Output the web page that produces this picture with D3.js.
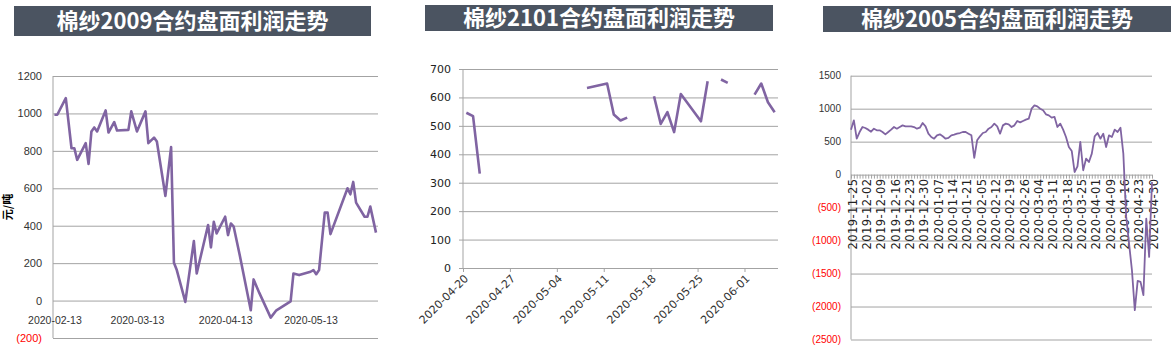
<!DOCTYPE html>
<html lang="zh">
<head>
<meta charset="UTF-8">
<title>棉纱合约盘面利润走势</title>
<script src="https://cdn.jsdelivr.net/npm/d3@7"></script>
<style>
  body { margin: 0; background: #fff; }
  .grid line { stroke: #a3a3a3; stroke-width: 1; }
  .grid path { display: none; }
  .lbl path, .lbl line { display: none; }
</style>
</head>
<body>
<script>
// ---- data ----
var titles = ["棉纱2009合约盘面利润走势", "棉纱2101合约盘面利润走势", "棉纱2005合约盘面利润走势"];
var unitLabel = "元/吨";

// 2009 contract
var p1Dates = ["2020-02-13","2020-02-14","2020-02-17","2020-02-19","2020-02-20","2020-02-21","2020-02-24","2020-02-25","2020-02-26","2020-02-27",
  "2020-02-28","2020-03-02","2020-03-03","2020-03-05","2020-03-06","2020-03-10","2020-03-11","2020-03-13","2020-03-16","2020-03-17",
  "2020-03-19","2020-03-20","2020-03-23","2020-03-25","2020-03-26","2020-03-27","2020-03-30","2020-04-02","2020-04-03","2020-04-07",
  "2020-04-08","2020-04-09","2020-04-10","2020-04-13","2020-04-14","2020-04-15","2020-04-16","2020-04-18","2020-04-22","2020-04-23",
  "2020-04-25","2020-04-29","2020-05-01","2020-05-06","2020-05-07","2020-05-09","2020-05-13","2020-05-14","2020-05-15","2020-05-16",
  "2020-05-18","2020-05-19","2020-05-20","2020-05-26","2020-05-27","2020-05-28","2020-05-29","2020-06-01","2020-06-02","2020-06-03",
  "2020-06-05"];
var p1Values = [993,993,1082,814,814,752,841,730,904,925,
  904,1016,898,954,909,912,1011,904,1011,841,
  871,850,559,820,202,163,-7,318,145,404,
  284,421,359,448,350,412,395,252,-52,113,
  41,-91,-52,-4,145,136,154,163,141,163,
  470,470,355,600,568,634,523,448,448,502,
  363];
var p1Ticks = [-200,0,200,400,600,800,1000,1200];
var p1TickDates = ["2020-02-13","2020-03-13","2020-04-13","2020-05-13"];

// 2101 contract (null = no quote)
var p2Dates = ["2020-04-20","2020-04-21","2020-04-22","2020-04-23","2020-05-08","2020-05-11","2020-05-12","2020-05-13","2020-05-14","2020-05-15",
  "2020-05-18","2020-05-19","2020-05-20","2020-05-21","2020-05-22","2020-05-25","2020-05-26","2020-05-27","2020-05-28","2020-05-29",
  "2020-06-01","2020-06-02","2020-06-03","2020-06-04","2020-06-05"];
var p2Values = [546,534,332,null,633,649,540,519,529,null,
  604,507,548,478,612,516,657,null,663,651,
  null,610,649,583,548];
var p2Ticks = [0,100,200,300,400,500,600,700];
var p2TickDates = ["2020-04-20","2020-04-27","2020-05-04","2020-05-11","2020-05-18","2020-05-25","2020-06-01"];

// 2005 contract (trading days)
var p3Dates = ["2019-11-25","2019-11-26","2019-11-27","2019-11-28","2019-11-29",
  "2019-12-02","2019-12-03","2019-12-04","2019-12-05","2019-12-06","2019-12-09","2019-12-10","2019-12-11","2019-12-12","2019-12-13",
  "2019-12-16","2019-12-17","2019-12-18","2019-12-19","2019-12-20","2019-12-23","2019-12-24","2019-12-25","2019-12-26","2019-12-27",
  "2019-12-30","2019-12-31",
  "2020-01-02","2020-01-03","2020-01-06","2020-01-07","2020-01-08","2020-01-09","2020-01-10","2020-01-13","2020-01-14","2020-01-15",
  "2020-01-16","2020-01-17","2020-01-20","2020-01-21","2020-01-22","2020-01-23",
  "2020-02-03","2020-02-04","2020-02-05","2020-02-06","2020-02-07","2020-02-10","2020-02-11","2020-02-12","2020-02-13","2020-02-14",
  "2020-02-17","2020-02-18","2020-02-19","2020-02-20","2020-02-21","2020-02-24","2020-02-25","2020-02-26","2020-02-27","2020-02-28",
  "2020-03-02","2020-03-03","2020-03-04","2020-03-05","2020-03-06","2020-03-09","2020-03-10","2020-03-11","2020-03-12","2020-03-13",
  "2020-03-16","2020-03-17","2020-03-18","2020-03-19","2020-03-20","2020-03-23","2020-03-24","2020-03-25","2020-03-26","2020-03-27",
  "2020-03-30","2020-03-31",
  "2020-04-01","2020-04-02","2020-04-03","2020-04-07","2020-04-08","2020-04-09","2020-04-10","2020-04-13","2020-04-14","2020-04-15",
  "2020-04-16","2020-04-17","2020-04-20","2020-04-21","2020-04-22","2020-04-23","2020-04-24","2020-04-27","2020-04-28","2020-04-29",
  "2020-04-30"];
var p3Values = [682,823,545,646,722,707,682,651,697,672,
  672,646,611,646,682,722,697,722,747,732,
  732,732,722,697,712,783,732,621,571,545,
  596,611,581,545,556,596,606,621,631,646,
  646,621,596,253,520,581,631,646,697,722,
  773,732,621,747,773,763,722,747,813,793,
  813,833,848,1000,1050,1035,1000,975,914,899,
  864,874,722,773,682,571,419,359,40,126,
  495,66,242,192,318,581,631,545,621,419,
  596,571,682,646,712,318,-641,-1045,-1449,-2055,
  -1611,-1626,-1828,-667,-1247,-111];
var p3Ticks = [-2500,-2000,-1500,-1000,-500,0,500,1000,1500];
var p3TickLabels = ["2019-11-25","2019-12-02","2019-12-09","2019-12-16","2019-12-23","2019-12-30","2020-01-07","2020-01-14",
  "2020-01-21","2020-02-05","2020-02-12","2020-02-19","2020-02-26","2020-03-04","2020-03-11","2020-03-18","2020-03-25",
  "2020-04-01","2020-04-09","2020-04-16","2020-04-23","2020-04-30"];

// ---- drawing ----
var lineColor = "#8064a2";
var parse = d3.timeParse("%Y-%m-%d");
var fmtDate = d3.timeFormat("%Y-%m-%d");
var negFmt = function (d) { return d < 0 ? "(" + Math.abs(d) + ")" : d; };

var svg = d3.select("body").append("svg")
    .attr("width", 1176)
    .attr("height", 351);

function drawTitle(txt, x0, x1, y0, y1) {
    svg.append("rect")
        .attr("x", x0).attr("y", y0)
        .attr("width", x1 - x0).attr("height", y1 - y0)
        .attr("fill", "#4b5461");
    svg.append("text")
        .attr("x", (x0 + x1) / 2)
        .attr("y", (y0 + y1) / 2)
        .attr("dy", "0.36em")
        .attr("text-anchor", "middle")
        .attr("fill", "#fff")
        .style("font-family", "'Noto Sans CJK SC', sans-serif")
        .style("font-weight", "bold")
        .style("font-size", "22px")
        .text(txt);
}

function drawYAxis(y, ticks, left, right, pad, font, size, color) {
    svg.append("g")
        .attr("class", "grid")
        .attr("transform", "translate(" + left + ",0)")
        .call(d3.axisLeft(y).tickValues(ticks).tickSize(-(right - left)).tickFormat(""));
    var g = svg.append("g")
        .attr("class", "lbl")
        .attr("transform", "translate(" + left + ",0)")
        .call(d3.axisLeft(y).tickValues(ticks).tickSize(0).tickPadding(pad).tickFormat(negFmt));
    g.selectAll("text")
        .style("font-family", font)
        .style("font-size", size)
        .attr("fill", function (d) { return d < 0 ? "#ff0000" : color; });
    svg.append("line")
        .attr("x1", left).attr("x2", left)
        .attr("y1", y.range()[1]).attr("y2", y.range()[0])
        .attr("stroke", "#a3a3a3");
}

// panel 1
drawTitle(titles[0], 14, 371, 6, 36);
var x1 = d3.scaleTime()
    .domain([new Date(2020, 1, 12, 12), new Date(2020, 5, 5, 17)])
    .range([53, 378]);
var y1 = d3.scaleLinear().domain([-200, 1200]).range([338, 76]);
drawYAxis(y1, p1Ticks, 53, 378, 11, "'Liberation Sans', Arial, sans-serif", "11px", "#333");
var xa1 = svg.append("g")
    .attr("class", "lbl")
    .attr("transform", "translate(0," + y1(0) + ")")
    .call(d3.axisBottom(x1).tickValues(p1TickDates.map(parse)).tickSize(0).tickPadding(16).tickFormat(fmtDate));
xa1.selectAll("text")
    .style("font-family", "'Liberation Sans', Arial, sans-serif")
    .style("font-size", "10.5px")
    .attr("fill", "#333");
svg.append("text")
    .attr("transform", "translate(12,207) rotate(-90)")
    .attr("text-anchor", "middle")
    .style("font-family", "'Noto Sans CJK SC', sans-serif")
    .style("font-weight", "bold")
    .style("font-size", "11px")
    .text(unitLabel);
var line1 = d3.line()
    .x(function (d, i) { return x1(parse(p1Dates[i])); })
    .y(function (d) { return y1(d); });
svg.append("path")
    .datum(p1Values)
    .attr("d", line1)
    .attr("fill", "none")
    .attr("stroke", lineColor)
    .attr("stroke-width", 2.6)
    .attr("stroke-linejoin", "round");

// panel 2
drawTitle(titles[1], 425, 773, 5, 31);
var x2 = d3.scaleTime()
    .domain([new Date(2020, 3, 20), new Date(2020, 5, 6)])
    .range([463, 778]);
var y2 = d3.scaleLinear().domain([0, 700]).range([268, 69]);
drawYAxis(y2, p2Ticks, 463, 778, 12, "'DejaVu Sans', Verdana, sans-serif", "11px", "#222");
svg.append("g")
    .attr("transform", "translate(463,0)")
    .call(d3.axisLeft(y2).tickValues(p2Ticks).tickSize(4).tickFormat(""))
    .call(function (g) { g.select(".domain").remove(); g.selectAll("line").attr("stroke", "#a3a3a3"); });
var xa2 = svg.append("g")
    .attr("transform", "translate(0,268)")
    .call(d3.axisBottom(x2).tickValues(p2TickDates.map(parse)).tickSize(4).tickFormat(fmtDate));
xa2.select(".domain").remove();
xa2.selectAll("line").attr("stroke", "#a3a3a3");
xa2.selectAll("text")
    .attr("x", -4)
    .attr("y", 8)
    .attr("dy", "0.35em")
    .attr("transform", "rotate(-45)")
    .style("text-anchor", "end")
    .style("font-family", "'DejaVu Sans', Verdana, sans-serif")
    .style("font-size", "11px")
    .attr("fill", "#333");
var line2 = d3.line()
    .defined(function (d) { return d !== null; })
    .x(function (d, i) { return x2(d3.timeHour.offset(parse(p2Dates[i]), 12)); })
    .y(function (d) { return y2(d); });
svg.append("path")
    .datum(p2Values)
    .attr("d", line2)
    .attr("fill", "none")
    .attr("stroke", lineColor)
    .attr("stroke-width", 2.6)
    .attr("stroke-linejoin", "round");

// panel 3
drawTitle(titles[2], 823, 1171, 6, 32);
var x3 = d3.scalePoint().domain(p3Dates).range([851, 1152]);
var y3 = d3.scaleLinear().domain([-2500, 1500]).range([339.5, 75.7]);
drawYAxis(y3, p3Ticks, 851, 1152, 10, "'Liberation Sans', Arial, sans-serif", "10px", "#333");
svg.append("g")
    .attr("transform", "translate(0," + y3(0) + ")")
    .call(d3.axisBottom(x3).tickSize(4).tickFormat(""))
    .call(function (g) { g.select(".domain").remove(); g.selectAll("line").attr("stroke", "#a3a3a3"); });
var xa3 = svg.append("g")
    .attr("class", "lbl")
    .attr("transform", "translate(0," + y3(0) + ")")
    .call(d3.axisBottom(x3).tickValues(p3TickLabels).tickSize(0));
xa3.selectAll("text")
    .attr("x", -4)
    .attr("y", 0)
    .attr("dy", "0.45em")
    .attr("transform", "rotate(-90)")
    .style("text-anchor", "end")
    .style("font-family", "'DejaVu Sans', Verdana, sans-serif")
    .style("font-size", "11.5px")
    .style("letter-spacing", "0.4px")
    .attr("fill", "#222");
var line3 = d3.line()
    .x(function (d, i) { return x3(p3Dates[i]); })
    .y(function (d) { return y3(d); });
svg.append("path")
    .datum(p3Values)
    .attr("d", line3)
    .attr("fill", "none")
    .attr("stroke", lineColor)
    .attr("stroke-width", 1.8)
    .attr("stroke-linejoin", "round");
</script>
</body>
</html>
